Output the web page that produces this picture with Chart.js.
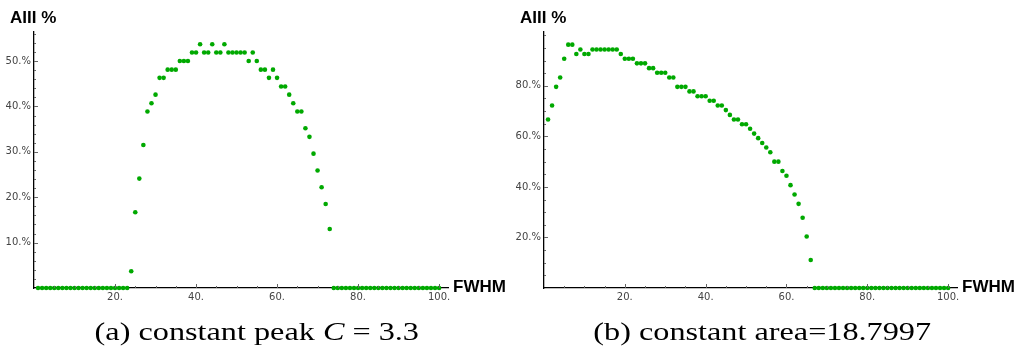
<!DOCTYPE html>
<html>
<head>
<meta charset="utf-8">
<script src="https://cdn.jsdelivr.net/npm/chart.js@4"></script>
<style>
  body { margin: 0; background: #fff; }
  #wrap { position: relative; width: 1016px; height: 349px; overflow: hidden; }
  .panel { position: absolute; top: 0; width: 508px; height: 349px; }
  .caption {
    position: absolute; top: 317px; width: 508px; text-align: center;
    font-family: "Liberation Serif", "DejaVu Serif", serif; font-size: 26px; color: #000;
  }
  .caption span { display: inline-block; transform: scaleX(1.24); }
</style>
</head>
<body>
<div id="wrap">
  <div class="panel" style="left:0"><canvas id="chartA" width="508" height="349"></canvas></div>
  <div class="panel" style="left:508px"><canvas id="chartB" width="508" height="349"></canvas></div>
  <div class="caption" style="left:3px"><span>(a) constant peak <i>C</i> = 3.3</span></div>
  <div class="caption" style="left:508px"><span>(b) constant area=18.7997</span></div>
</div>
<script>
// FWHM values (x)
const fwhm = [
  1, 2, 3, 4, 5, 6, 7, 8, 9, 10, 11, 12, 13, 14, 15, 16, 17, 18, 19, 20,
  21, 22, 23, 24, 25, 26, 27, 28, 29, 30, 31, 32, 33, 34, 35, 36, 37, 38, 39, 40,
  41, 42, 43, 44, 45, 46, 47, 48, 49, 50, 51, 52, 53, 54, 55, 56, 57, 58, 59, 60,
  61, 62, 63, 64, 65, 66, 67, 68, 69, 70, 71, 72, 73, 74, 75, 76, 77, 78, 79, 80,
  81, 82, 83, 84, 85, 86, 87, 88, 89, 90, 91, 92, 93, 94, 95, 96, 97, 98, 99, 100
];

// (a) constant peak C = 3.3, AIII %
const peakValues = [
  0, 0, 0, 0, 0, 0, 0, 0, 0, 0, 0, 0, 0, 0, 0, 0, 0, 0, 0, 0,
  0, 0, 0, 3.7, 16.7, 24.1, 31.5, 38.9, 40.7, 42.6, 46.3, 46.3, 48.1, 48.1, 48.1, 50.0, 50.0, 50.0, 51.9, 51.9,
  53.7, 51.9, 51.9, 53.7, 51.9, 51.9, 53.7, 51.9, 51.9, 51.9, 51.9, 51.9, 50.0, 51.9, 50.0, 48.1, 48.1, 46.3, 48.1, 46.3,
  44.4, 44.4, 42.6, 40.7, 38.9, 38.9, 35.2, 33.3, 29.6, 25.9, 22.2, 18.5, 13.0, 0, 0, 0, 0, 0, 0, 0,
  0, 0, 0, 0, 0, 0, 0, 0, 0, 0, 0, 0, 0, 0, 0, 0, 0, 0, 0, 0
];

// (b) constant area = 18.7997, AIII %
const areaValues = [
  66.7, 72.2, 79.6, 83.3, 90.7, 96.3, 96.3, 92.6, 94.4, 92.6, 92.6, 94.4, 94.4, 94.4, 94.4, 94.4, 94.4, 94.4, 92.6, 90.7,
  90.7, 90.7, 88.9, 88.9, 88.9, 87.0, 87.0, 85.2, 85.2, 85.2, 83.3, 83.3, 79.6, 79.6, 79.6, 77.8, 77.8, 75.9, 75.9, 75.9,
  74.1, 74.1, 72.2, 72.2, 70.4, 68.5, 66.7, 66.7, 64.8, 64.8, 63.0, 61.1, 59.3, 57.4, 55.6, 53.7, 50.0, 50.0, 46.3, 44.4,
  40.7, 37.0, 33.3, 27.8, 20.4, 11.1, 0, 0, 0, 0, 0, 0, 0, 0, 0, 0, 0, 0, 0, 0,
  0, 0, 0, 0, 0, 0, 0, 0, 0, 0, 0, 0, 0, 0, 0, 0, 0, 0, 0, 0
];

const xLabels = [20, 40, 60, 80, 100];
const yLabelsA = [10, 20, 30, 40, 50];
const yLabelsB = [20, 40, 60, 80];

const green = '#00a900';
const tickFont = { family: '"DejaVu Sans", Verdana, sans-serif', size: 10 };

// inward tick marks + axis titles, drawn after the chart
const axisDecor = {
  id: 'axisDecor',
  afterDraw(chart, args, opts) {
    const ctx = chart.ctx;
    const area = chart.chartArea;
    const xs = chart.scales.x, ys = chart.scales.y;
    ctx.save();
    ctx.strokeStyle = '#666';
    ctx.lineWidth = 1;
    ctx.beginPath();
    for (let v = opts.yMinor; v <= ys.max; v += opts.yMinor) {
      const y = Math.round(ys.getPixelForValue(v)) + 0.5;
      const len = opts.yMajor.includes(v) ? 4 : 2;
      ctx.moveTo(area.left, y);
      ctx.lineTo(area.left + len, y);
    }
    for (let v = 5; v <= 100; v += 5) {
      const x = Math.round(xs.getPixelForValue(v)) + 0.5;
      const len = xLabels.includes(v) ? 4 : 2;
      ctx.moveTo(x, area.bottom);
      ctx.lineTo(x, area.bottom - len);
    }
    ctx.stroke();

    ctx.fillStyle = '#000';
    ctx.font = 'bold 17px "Liberation Sans", Arial, sans-serif';
    ctx.textBaseline = 'middle';
    ctx.textAlign = 'left';
    ctx.fillText('AIII %', area.left - 24, 18);
    ctx.fillText('FWHM', area.right + 5, area.bottom - 1);
    ctx.restore();
  }
};

function makeChart(id, values, yMax, yMajor, yMinor, leftWidth, rightPad) {
  return new Chart(document.getElementById(id), {
    type: 'scatter',
    data: {
      datasets: [{
        data: fwhm.map((x, i) => ({ x: x, y: values[i] })),
        backgroundColor: green,
        borderWidth: 0,
        pointRadius: 2.3,
        pointHoverRadius: 2.3,
        clip: false
      }]
    },
    options: {
      responsive: false,
      animation: false,
      events: [],
      layout: { padding: { top: 32, right: rightPad, left: 0, bottom: 0 } },
      plugins: {
        legend: { display: false },
        tooltip: { enabled: false },
        axisDecor: { yMajor: yMajor, yMinor: yMinor }
      },
      scales: {
        x: {
          type: 'linear',
          min: 0,
          max: 102.2,
          afterFit: s => { s.height = 61; },
          afterBuildTicks: s => { s.ticks = xLabels.map(v => ({ value: v })); },
          grid: { display: false, drawTicks: false },
          border: { display: true, color: '#000', width: 1.3 },
          ticks: {
            autoSkip: false,
            maxRotation: 0,
            padding: 3,
            color: '#444',
            font: tickFont,
            callback: v => v + '.'
          }
        },
        y: {
          type: 'linear',
          min: 0,
          max: yMax,
          afterFit: s => { s.width = leftWidth; },
          afterBuildTicks: s => { s.ticks = yMajor.map(v => ({ value: v })); },
          grid: { display: false, drawTicks: false },
          border: { display: true, color: '#000', width: 1.3 },
          ticks: {
            autoSkip: false,
            padding: 3,
            color: '#444',
            font: tickFont,
            callback: v => v + '.%'
          }
        }
      }
    },
    plugins: [axisDecor]
  });
}

makeChart('chartA', peakValues, 56.4, yLabelsA, 2, 34, 60);
makeChart('chartB', areaValues, 101.3, yLabelsB, 5, 36, 59);
</script>
</body>
</html>
